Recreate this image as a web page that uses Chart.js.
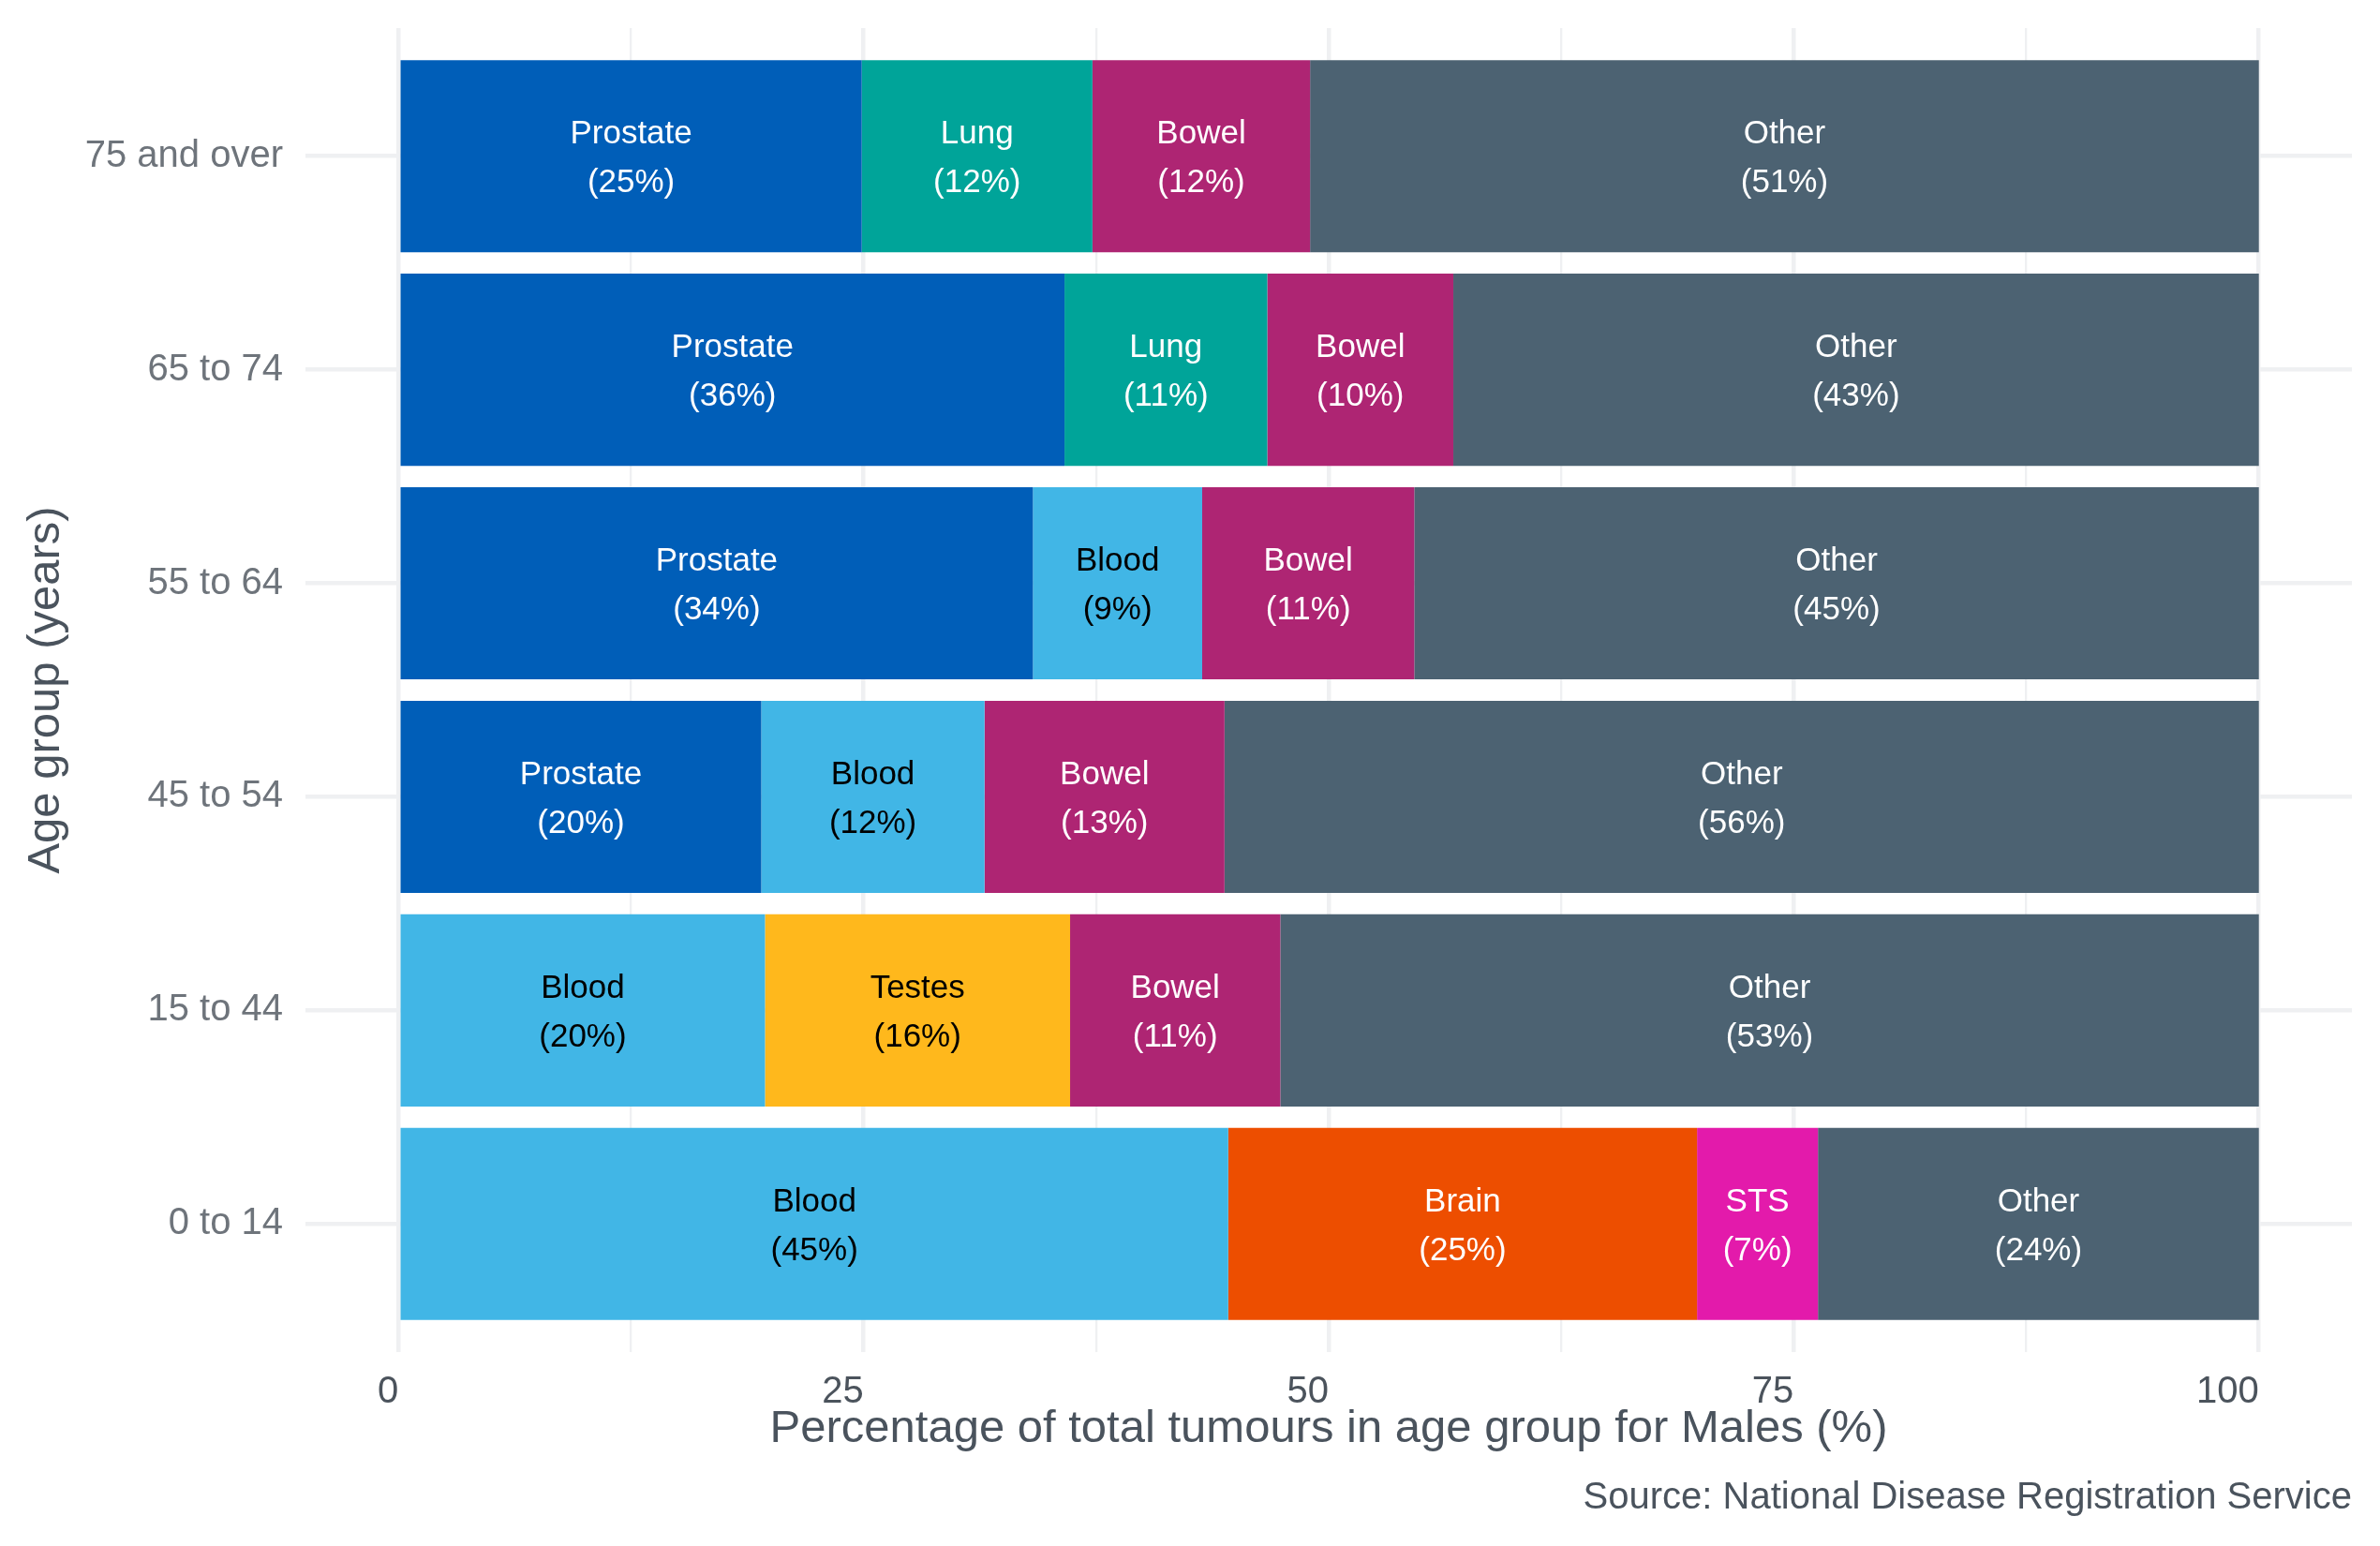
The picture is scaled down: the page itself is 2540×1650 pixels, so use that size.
<!DOCTYPE html>
<html>
<head>
<meta charset="utf-8">
<script src="https://cdn.jsdelivr.net/npm/chart.js@4.4.1/dist/chart.umd.min.js"></script>
<style>
  html, body { margin: 0; padding: 0; background: #ffffff; }
  canvas { display: block; }
</style>
</head>
<body>
<canvas id="chart" width="2540" height="1650" style="width:2540px;height:1650px"></canvas>
<script>
// age groups, bottom to top (0 to 14 sits at y = 1)
const ageGroups = ['0 to 14', '15 to 44', '45 to 54', '55 to 64', '65 to 74', '75 and over'];

// the four segments of each bar, left to right
const firstSite = ['Blood', 'Blood', 'Prostate', 'Prostate', 'Prostate', 'Prostate'];
const firstPct = [44.6, 19.7, 19.5, 34.1, 35.8, 24.9];
const secondSite = ['Brain', 'Testes', 'Blood', 'Blood', 'Lung', 'Lung'];
const secondPct = [25.2, 16.4, 12.0, 9.1, 10.9, 12.4];
const thirdSite = ['STS', 'Bowel', 'Bowel', 'Bowel', 'Bowel', 'Bowel'];
const thirdPct = [6.5, 11.3, 12.9, 11.4, 10.0, 11.7];
const otherSite = ['Other', 'Other', 'Other', 'Other', 'Other', 'Other'];
const otherPct = [23.7, 52.6, 55.6, 45.4, 43.3, 51.0];

const xTicks = [0, 25, 50, 75, 100];

const siteColours = {
    Prostate: '#005eb8',
    Lung: '#00a499',
    Bowel: '#ae2573',
    Other: '#4c6272',
    Blood: '#41b6e6',
    Testes: '#ffb81c',
    Brain: '#ed4e00',
    STS: '#e31aab'
};
const darkText = ['Blood', 'Testes'];

const FONT = "'Liberation Sans', Arial, sans-serif";
const GRID = '#eff0f2';

const makeSet = (sites, pct) => ({
    sites: sites,
    data: pct.map((v, i) => ({ x: v, y: i + 1 })),
    backgroundColor: sites.map(s => siteColours[s]),
    borderWidth: 0,
    stack: 'row',
    barPercentage: 0.9,
    categoryPercentage: 1
});

const barLabels = {
    id: 'barLabels',
    afterDatasetsDraw(chart) {
        const { ctx } = chart;
        ctx.save();
        ctx.font = '35px ' + FONT;
        ctx.textAlign = 'center';
        ctx.textBaseline = 'middle';
        chart.data.datasets.forEach((ds, di) => {
            chart.getDatasetMeta(di).data.forEach((bar, i) => {
                const { x, y, base } = bar.getProps(['x', 'y', 'base'], true);
                const cx = (x + base) / 2;
                ctx.fillStyle = darkText.includes(ds.sites[i]) ? '#000000' : '#ffffff';
                ctx.fillText(ds.sites[i], cx, y - 23);
                ctx.fillText('(' + Math.round(ds.data[i].x) + '%)', cx, y + 29);
            });
        });
        ctx.restore();
    }
};

new Chart(document.getElementById('chart'), {
    type: 'bar',
    data: {
        datasets: [
            makeSet(firstSite, firstPct),
            makeSet(secondSite, secondPct),
            makeSet(thirdSite, thirdPct),
            makeSet(otherSite, otherPct)
        ]
    },
    options: {
        indexAxis: 'y',
        responsive: false,
        animation: false,
        devicePixelRatio: 1,
        events: [],
        layout: { padding: { top: 30, right: 30, bottom: 0, left: 0 } },
        plugins: {
            legend: { display: false },
            tooltip: { enabled: false },
            subtitle: {
                display: true,
                position: 'bottom',
                align: 'end',
                text: 'Source: National Disease Registration Service',
                color: '#4a535d',
                font: { family: FONT, size: 40, weight: 'normal' },
                padding: { top: 10, bottom: 27 }
            }
        },
        scales: {
            x: {
                type: 'linear',
                stacked: true,
                min: -5,
                max: 105,
                afterBuildTicks: (axis) => {
                    axis.ticks = [0, 12.5, 25, 37.5, 50, 62.5, 75, 87.5, 100].map(v => ({ value: v }));
                },
                afterFit: (axis) => {
                    axis.height = 122;
                    axis.paddingLeft = 0;
                    axis.paddingRight = 0;
                },
                border: { display: false },
                grid: {
                    color: GRID,
                    drawTicks: false,
                    lineWidth: (c) => (c.tick && xTicks.includes(c.tick.value)) ? 4.5 : 2.3
                },
                ticks: {
                    autoSkip: false,
                    maxRotation: 0,
                    align: 'end',
                    padding: 19,
                    color: '#4b535c',
                    font: { family: FONT, size: 40 },
                    callback: (v) => xTicks.includes(v) ? String(v) : ''
                },
                title: {
                    display: true,
                    text: 'Percentage of total tumours in age group for Males (%)',
                    color: '#4a535d',
                    font: { family: FONT, size: 49 },
                    padding: { top: 0, bottom: 10 }
                }
            },
            y: {
                type: 'linear',
                min: 0.4,
                max: 6.6,
                offset: false,
                afterBuildTicks: (axis) => {
                    axis.ticks = ageGroups.map((g, i) => ({ value: i + 1 }));
                },
                afterFit: (axis) => {
                    axis.width = 326;
                    axis.paddingTop = 0;
                    axis.paddingBottom = 0;
                },
                border: { display: false },
                grid: { color: GRID, drawTicks: false, offset: false, lineWidth: 4.5 },
                ticks: {
                    autoSkip: false,
                    padding: 24,
                    color: '#6e747b',
                    font: { family: FONT, size: 40 },
                    callback: (v) => ageGroups[v - 1]
                },
                title: {
                    display: true,
                    text: 'Age group (years)',
                    color: '#4a535d',
                    font: { family: FONT, size: 49 },
                    padding: { top: 20, bottom: 0 }
                }
            }
        }
    },
    plugins: [barLabels]
});
</script>
</body>
</html>
